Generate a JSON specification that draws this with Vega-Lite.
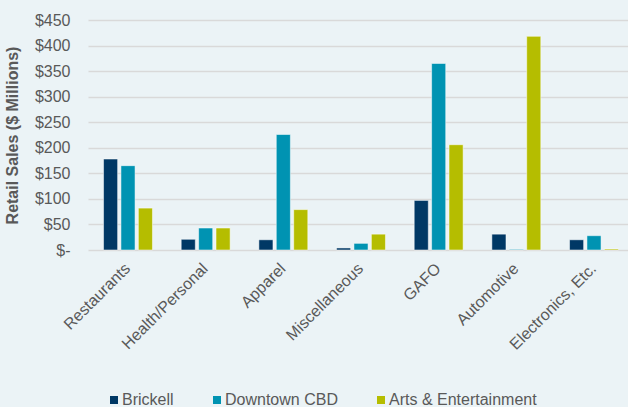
{
  "$schema": "https://vega.github.io/schema/vega-lite/v6.json",
  "width": 546,
  "height": 230,
  "autosize": "none",
  "padding": {"left": 88, "top": 20, "right": 0, "bottom": 157},
  "background": "#EBF3F6",
  "config": {
    "view": {"stroke": null},
    "font": "Liberation Sans",
    "axis": {"labelFont": "Liberation Sans", "titleFont": "Liberation Sans"}
  },
  "data": {
    "values": [
      {"category": "Restaurants", "area": "Brickell", "sales": 178},
      {"category": "Restaurants", "area": "Downtown CBD", "sales": 165},
      {"category": "Restaurants", "area": "Arts & Entertainment", "sales": 82},
      {"category": "Health/Personal", "area": "Brickell", "sales": 21},
      {"category": "Health/Personal", "area": "Downtown CBD", "sales": 43},
      {"category": "Health/Personal", "area": "Arts & Entertainment", "sales": 43},
      {"category": "Apparel", "area": "Brickell", "sales": 20},
      {"category": "Apparel", "area": "Downtown CBD", "sales": 226},
      {"category": "Apparel", "area": "Arts & Entertainment", "sales": 79},
      {"category": "Miscellaneous", "area": "Brickell", "sales": 4},
      {"category": "Miscellaneous", "area": "Downtown CBD", "sales": 13},
      {"category": "Miscellaneous", "area": "Arts & Entertainment", "sales": 31},
      {"category": "GAFO", "area": "Brickell", "sales": 97},
      {"category": "GAFO", "area": "Downtown CBD", "sales": 365},
      {"category": "GAFO", "area": "Arts & Entertainment", "sales": 206},
      {"category": "Automotive", "area": "Brickell", "sales": 31},
      {"category": "Automotive", "area": "Downtown CBD", "sales": 1.3},
      {"category": "Automotive", "area": "Arts & Entertainment", "sales": 418},
      {"category": "Electronics, Etc.", "area": "Brickell", "sales": 20},
      {"category": "Electronics, Etc.", "area": "Downtown CBD", "sales": 28},
      {"category": "Electronics, Etc.", "area": "Arts & Entertainment", "sales": 2}
    ]
  },
  "mark": {"type": "bar", "stroke": "#ffffff", "strokeOpacity": 0.5, "strokeWidth": 1},
  "encoding": {
    "x": {
      "field": "category",
      "type": "nominal",
      "sort": null,
      "scale": {"paddingInner": 0.37, "paddingOuter": 0.2},
      "axis": {
        "title": null,
        "labelAngle": -45,
        "labelFontSize": 16,
        "labelColor": "#595959",
        "ticks": false,
        "domain": false,
        "labelPadding": 10,
        "labelOffset": -6
      }
    },
    "xOffset": {
      "field": "area",
      "type": "nominal",
      "sort": ["Brickell", "Downtown CBD", "Arts & Entertainment"],
      "scale": {"paddingInner": 0.19}
    },
    "y": {
      "field": "sales",
      "type": "quantitative",
      "scale": {"domain": [0, 450]},
      "axis": {
        "title": "Retail Sales ($ Millions)",
        "titleFontSize": 16,
        "titleFontWeight": "bold",
        "titleColor": "#595959",
        "titlePadding": 14,
        "labelFontSize": 16,
        "labelColor": "#595959",
        "labelPadding": 18,
        "values": [0, 50, 100, 150, 200, 250, 300, 350, 400, 450],
        "labelExpr": "datum.value == 0 ? '$-' : '$' + datum.label",
        "ticks": false,
        "domain": false,
        "gridColor": "#D9D9D9",
        "gridWidth": 1.5
      }
    },
    "color": {
      "field": "area",
      "type": "nominal",
      "sort": ["Brickell", "Downtown CBD", "Arts & Entertainment"],
      "scale": {"domain": ["Brickell", "Downtown CBD", "Arts & Entertainment"], "range": ["#003865", "#0093B2", "#B5BD00"]},
      "legend": {
        "title": null,
        "orient": "none",
        "legendX": 18,
        "legendY": 372,
        "direction": "horizontal",
        "symbolType": "square",
        "symbolSize": 64,
        "symbolStrokeWidth": 0,
        "labelFontSize": 16,
        "labelColor": "#595959",
        "labelOffset": 0,
        "columnPadding": 35
      }
    }
  }
}
